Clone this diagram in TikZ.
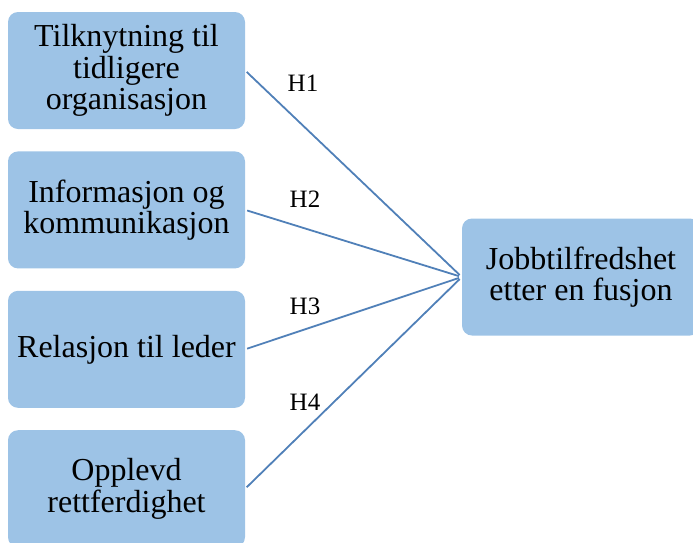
\documentclass[tikz,border=0pt]{standalone}
\usepackage{fontspec}
\setmainfont{Liberation Serif}
\usetikzlibrary{positioning}
\definecolor{boxblue}{RGB}{157,195,230}
\definecolor{lineblue}{RGB}{80,128,184}
\newcommand{\boxfont}{\fontsize{32}{31.5}\selectfont}
\newcommand{\hypfont}{\fontsize{25}{25}\selectfont}

\begin{document}
\begin{tikzpicture}[x=1pt,y=-1pt,node distance=22pt,
  factor/.style={fill=boxblue,rounded corners=10pt,minimum width=237pt,
    minimum height=117pt,inner sep=0pt,align=center,font=\boxfont},
  hyp/.style={font=\hypfont,inner sep=0pt},
  link/.style={draw=lineblue,line width=1.8pt,shorten <=2pt,shorten >=3pt}]
\useasboundingbox (0,0) rectangle (693,542);
\node[factor] (tilk) at (126.5,70.5) {Tilknytning til\\tidligere\\organisasjon};
\node[factor, below=of tilk] (info) {Informasjon og\\kommunikasjon};
\node[factor, below=of info] (rel) {Relasjon til leder};
\node[factor, below=of rel] (rett) {Opplevd\\rettferdighet};
\node[factor, minimum width=238pt] (jobb) at (581,277) {Jobbtilfredshet\\etter en fusjon};
\path[link]
  (tilk.east) edge (jobb.west)
  (info.east) edge (jobb.west)
  (rel.east) edge (jobb.west)
  (rett.east) edge (jobb.west);
\node[hyp] (h1) at (303,83) {H1};
\node[hyp] (h2) at (305,199) {H2};
\node[hyp] (h3) at (305,306) {H3};
\node[hyp] (h4) at (305,402) {H4};
\end{tikzpicture}
\end{document}
